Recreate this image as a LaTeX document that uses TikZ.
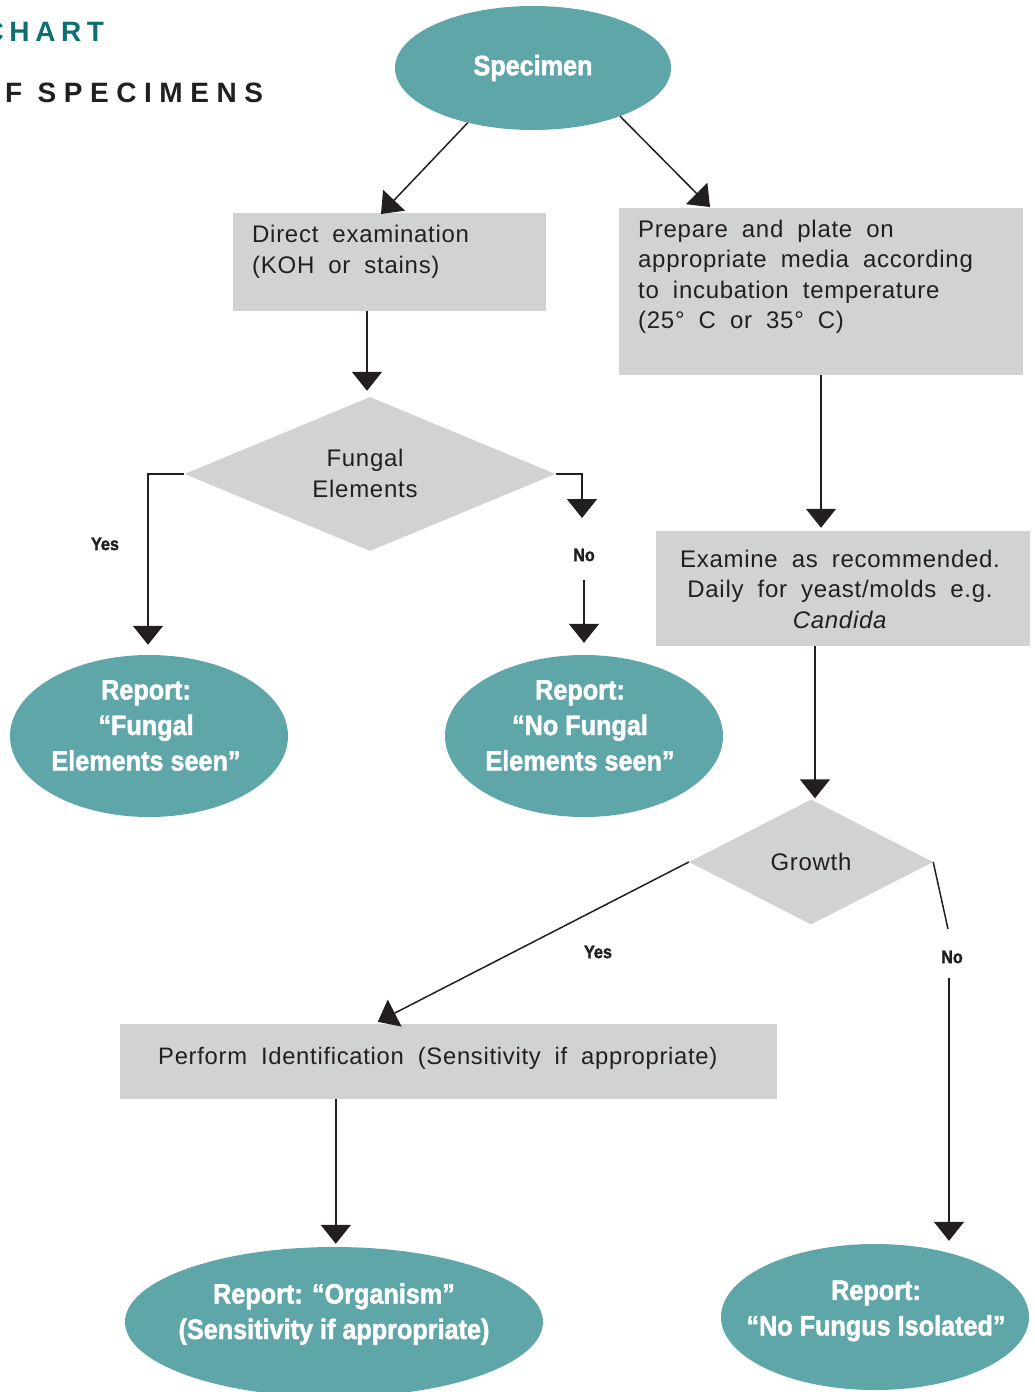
\documentclass[tikz,border=0pt]{standalone}
\usepackage{fontspec}
\setmainfont{Liberation Sans}
\newfontfamily\bodyfont{Liberation Sans}[LetterSpace=3,WordSpace=1.9]
\newfontfamily\condfont{Liberation Sans}[FakeStretch=0.9,FakeBold=1.6]
\newfontfamily\titlefont{Liberation Sans}[LetterSpace=20]
\newfontfamily\titlefontb{Liberation Sans}[LetterSpace=27]
\usetikzlibrary{arrows.meta,shapes.geometric,calc}
\definecolor{tealfill}{HTML}{5FA6A9}
\definecolor{greyfill}{HTML}{D1D2D4}
\definecolor{inkc}{HTML}{231F20}
\definecolor{titleteal}{HTML}{0E6F70}
\begin{document}
\begin{tikzpicture}[x=1pt,y=-1pt,
  box/.style={rectangle, fill=greyfill, inner sep=0},
  oval/.style={ellipse, fill=tealfill, inner sep=0},
  dia/.style={diamond, fill=greyfill, inner sep=0},
  body/.style={font=\bodyfont\fontsize{24}{30.5}\selectfont, text=inkc, inner sep=0},
  rep/.style={font=\condfont\bfseries\fontsize{28}{35.5}\selectfont, text=white, inner sep=0, align=center},
  lab/.style={font=\condfont\bfseries\fontsize{18}{20}\selectfont, text=inkc, inner sep=0},
  ttl/.style={inner sep=0, anchor=base west},
  arr/.style={draw=inkc, line width=1.5pt, -{Triangle[width=30pt,length=19pt]}},
  ln/.style={draw=inkc, line width=1.5pt},
]
\useasboundingbox (0,0) rectangle (1034,1392);
% title
\node[ttl, text=titleteal, font=\titlefont\bfseries\fontsize{28}{30}\selectfont] (title1) at (-16.5,41) {CHART};
\node[ttl, text=inkc, font=\titlefontb\bfseries\fontsize{28}{30}\selectfont] (title2) at (5,102) {F SPECIMENS};
% shapes
\node[oval, minimum width=276pt, minimum height=124pt, rep] (spec) at (533,68) {Specimen};
\node[box, minimum width=313pt, minimum height=98pt] (direct) at (389.5,262) {};
\node[body, align=left, anchor=west] (directtxt) at (252,252) {Direct examination\\(KOH or stains)};
\node[box, minimum width=404pt, minimum height=167pt] (prep) at (821,291.5) {};
\node[body, align=left, anchor=west] (preptxt) at (638,277) {Prepare and plate on\\appropriate media according\\to incubation temperature\\(25° C or 35° C)};
\node[dia, minimum width=371pt, minimum height=154pt, shape aspect=2.41] (fung) at (370,474) {};
\node[body, align=center] (fungtxt) at (365,473.5) {Fungal\\Elements};
\node[oval, minimum width=278pt, minimum height=162pt] (r1) at (149,736) {};
\node[rep] (r1txt) at (146,725.5) {Report:\\“Fungal\\Elements seen”};
\node[oval, minimum width=278pt, minimum height=162pt] (r2) at (584,736) {};
\node[rep] (r2txt) at (580,725.5) {Report:\\“No Fungal\\Elements seen”};
\node[box, minimum width=374pt, minimum height=115pt] (exam) at (843,588.5) {};
\node[body, align=center] (examtxt) at (840,589) {Examine as recommended.\\Daily for yeast/molds e.g.\\\textit{Candida}};
\node[dia, minimum width=244pt, minimum height=125pt, shape aspect=1.95, body] (grow) at (811,862) {Growth};
\node[box, minimum width=657pt, minimum height=75pt] (perf) at (448.5,1061.5) {};
\node[body, anchor=west, font=\bodyfont\fontsize{23.8}{30}\selectfont] (perftxt) at (158,1058.5) {Perform Identification (Sensitivity if appropriate)};
\node[oval, minimum width=418pt, minimum height=150pt] (org) at (334,1322) {};
\node[rep] (orgtxt) at (334,1314) {Report: “Organism”\\(Sensitivity if appropriate)};
\node[oval, minimum width=308pt, minimum height=146pt] (nof) at (875,1317) {};
\node[rep] (noftxt) at (876,1311) {Report:\\“No Fungus Isolated”};
% labels
\node[lab] (yes1) at (105,544) {Yes};
\node[lab] (no1) at (584,555) {No};
\node[lab] (yes2) at (598,952) {Yes};
\node[lab] (no2) at (952,957) {No};
% connectors
\coordinate (a1) at (381,214);
\draw[arr] (spec.220.75) -- (a1);
\coordinate (a2) at (710,207);
\draw[arr] (spec.331.7) -- (a2);
\coordinate (a3) at ($(fung.north)+(-3,-6)$);
\draw[arr] (a3 |- direct.south) -- (a3);
\coordinate (a4) at ($(r1.north)+(-1,-10)$);
\draw[arr] (fung.west) -| (a4);
\coordinate (a5) at (582,518);
\draw[arr] (fung.east) -| (a5);
\coordinate (a6) at ($(r2.north)+(0,-12)$);
\draw[arr] ($(no1.center)+(0,25)$) -- (a6);
\draw[arr] (prep.south) -- ($(prep.south |- exam.north)+(0,-3)$);
\coordinate (a8) at ($(grow.north)+(4,-1)$);
\draw[arr] (a8 |- exam.south) -- (a8);
\draw[arr] (grow.west) -- ($(perf.north west)+(258,-2)$);
\draw[ln] (grow.east) -- ($(no2.center)+(-4,-28)$);
\draw[arr] ($(no2.center)+(-3,21)$) -- ($(nof.north)+(74,-3)$);
\coordinate (a9) at ($(perf.south west)+(216,0)$);
\draw[arr] (a9) -- ($(a9 |- org.north)+(0,-3)$);
\end{tikzpicture}
\end{document}
